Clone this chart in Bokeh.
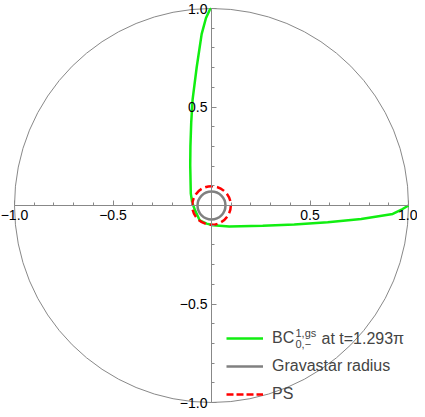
from bokeh.plotting import figure
from bokeh.models import (Range1d, LinearAxis, FixedTicker, Legend, LegendItem, Label)
from bokeh.embed import file_html
from bokeh.resources import INLINE

# ---- data ----
curve_x = [0.0, -0.008, -0.028, -0.05, -0.075, -0.096, -0.103, -0.107, -0.108, -0.105,
           -0.098, -0.083, -0.06, -0.025, 0.008, 0.09, 0.26, 0.42, 0.59, 0.76, 0.92, 0.97, 1.0]
curve_y = [1.0, 0.995, 0.952, 0.87, 0.703, 0.537, 0.42, 0.30, 0.204, 0.06,
           0.015, -0.026, -0.075, -0.092, -0.10, -0.106, -0.103, -0.096, -0.085, -0.068,
           -0.043, -0.018, 0.0]
unit_radius = 1.0
gravastar_radius = 0.071
ps_radius = 0.098
major_ticks = [-1.0, -0.5, 0.5, 1.0]
minor_ticks = [-0.9, -0.8, -0.7, -0.6, -0.4, -0.3, -0.2, -0.1,
               0.1, 0.2, 0.3, 0.4, 0.6, 0.7, 0.8, 0.9]
tick_labels = {-1.0: "\u22121.0", -0.5: "\u22120.5", 0.5: "0.5", 1.0: "1.0"}
legend_labels = ["BC", "Gravastar radius", "PS"]

# ---- layout ----
W, H = 417, 409
S = 197.0
CX, CY = 211.0, 205.0
xr = Range1d(-CX / S, (W - CX) / S)
yr = Range1d(-(H - CY) / S, CY / S)

p = figure(width=W, height=H, x_range=xr, y_range=yr, output_backend="svg",
           toolbar_location=None, x_axis_location=None, y_axis_location=None,
           min_border=0, outline_line_color=None, background_fill_color="white")
p.grid.visible = False

FONT = "Liberation Sans"
for side in ("below", "left"):
    ax = LinearAxis(fixed_location=0, bounds=(-1, 1),
                    ticker=FixedTicker(ticks=major_ticks, minor_ticks=minor_ticks),
                    major_label_overrides=tick_labels)
    ax.axis_line_color = "#888888"
    ax.major_tick_line_color = "#888888"
    ax.minor_tick_line_color = "#888888"
    ax.major_tick_in = 5
    ax.major_tick_out = 0
    ax.minor_tick_in = 3
    ax.minor_tick_out = 0
    ax.major_label_text_font = FONT
    ax.major_label_text_font_size = "14px"
    ax.major_label_text_color = "black"
    ax.major_label_standoff = 4
    p.add_layout(ax, side)

p.circle(x=[0], y=[0], radius=unit_radius, fill_color=None, line_color="#888888", line_width=1)
g = p.line(curve_x, curve_y, line_color="#11ee11", line_width=2.5)
p.circle(x=[0], y=[0], radius=gravastar_radius, fill_color=None, line_color="#808080", line_width=2.5)
p.circle(x=[0], y=[0], radius=ps_radius, fill_color=None, line_color="#ff0000",
         line_width=2.5, line_dash="8 4")

# legend-only samples (a single point draws no line)
lg_gray = p.line([0], [0], line_color="#808080", line_width=2.5)
lg_red = p.line([0], [0], line_color="#ff0000", line_width=2.5, line_dash="7 3")

legend = Legend(items=[LegendItem(label=legend_labels[0], renderers=[g]),
                       LegendItem(label=legend_labels[1], renderers=[lg_gray]),
                       LegendItem(label=legend_labels[2], renderers=[lg_red])],
                location=(226, 5), margin=0, padding=0, spacing=8,
                glyph_width=37, glyph_height=20, label_height=20, label_standoff=9,
                background_fill_alpha=0, border_line_alpha=0,
                label_text_font=FONT, label_text_font_size="16px")
p.add_layout(legend, "center")

row1 = 71
p.add_layout(Label(x=295, y=row1 + 6, x_units="screen", y_units="screen", text="1,gs",
                   text_font=FONT, text_font_size="11px", text_baseline="middle"))
p.add_layout(Label(x=295, y=row1 - 5, x_units="screen", y_units="screen", text="0,\u2212",
                   text_font=FONT, text_font_size="11px", text_baseline="middle"))
p.add_layout(Label(x=321, y=row1, x_units="screen", y_units="screen", text="at t=1.293\u03c0",
                   text_font=FONT, text_font_size="16px", text_baseline="middle"))

open("out.html", "w").write(file_html(p, INLINE))
